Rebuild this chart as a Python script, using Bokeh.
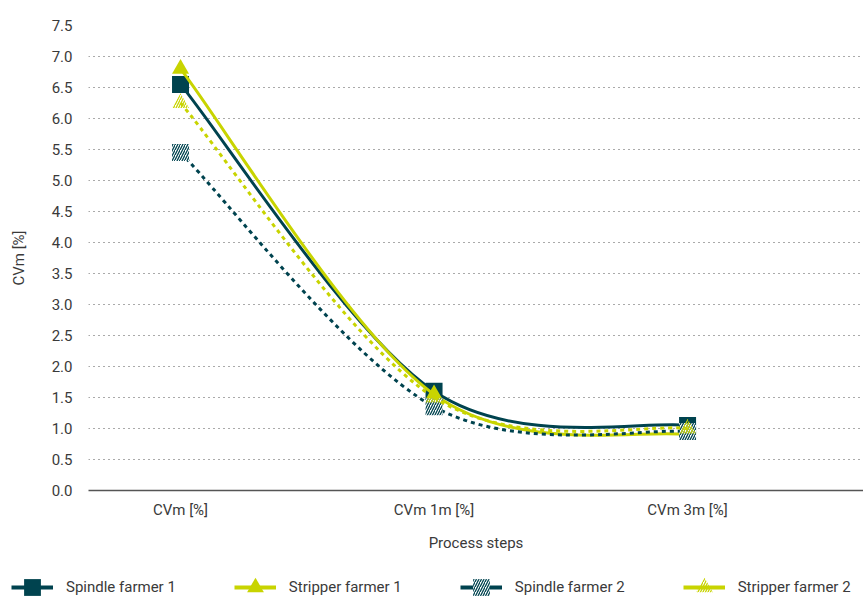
from bokeh.plotting import figure
from bokeh.layouts import column
from bokeh.models import Legend, LegendItem, FixedTicker, Range1d, PrintfTickFormatter
from bokeh.embed import file_html
from bokeh.resources import INLINE

# ---------------- data ----------------
categories = ["CVm [%]", "CVm 1m [%]", "CVm 3m [%]"]
spindle_farmer_1 = [6.55, 1.6, 1.05]
stripper_farmer_1 = [6.8, 1.55, 0.9]
spindle_farmer_2 = [5.45, 1.35, 0.95]
stripper_farmer_2 = [6.25, 1.5, 1.0]
series_names = ["Spindle farmer 1", "Stripper farmer 1", "Spindle farmer 2", "Stripper farmer 2"]
y_ticks = [0.0, 0.5, 1.0, 1.5, 2.0, 2.5, 3.0, 3.5, 4.0, 4.5, 5.0, 5.5, 6.0, 6.5, 7.0, 7.5]

DARK = "#00434f"
LIME = "#c8d400"
TEXT = "#3a3a3a"
FONT = "Roboto"
FS = "15px"

p = figure(width=863, height=556, output_backend="svg", toolbar_location=None,
           x_range=Range1d(-0.363, 2.694), y_range=Range1d(0, 7.5),
           min_border_left=88, min_border_right=0, min_border_top=25, min_border_bottom=66)
p.frame_align = False
p.outline_line_color = None
p.background_fill_color = "white"

# axes
p.xaxis.ticker = FixedTicker(ticks=list(range(len(categories))))
p.xaxis.major_label_overrides = {i: c for i, c in enumerate(categories)}
p.xaxis.axis_label = "Process steps"
p.xaxis.axis_line_color = "#555555"
p.xaxis.axis_line_width = 1.5
p.xaxis.major_tick_line_color = None
p.xaxis.minor_tick_line_color = None
p.xaxis.major_label_standoff = 4
p.xaxis.axis_label_standoff = 12

p.yaxis.ticker = FixedTicker(ticks=y_ticks)
p.yaxis.formatter = PrintfTickFormatter(format="%.1f")
p.yaxis.axis_label = "CVm [%]"
p.yaxis.axis_line_color = None
p.yaxis.major_tick_line_color = None
p.yaxis.minor_tick_line_color = None
p.yaxis.major_label_standoff = 10
p.yaxis.axis_label_standoff = 21

for ax in (p.xaxis[0], p.yaxis[0]):
    ax.major_label_text_font = FONT
    ax.major_label_text_font_size = FS
    ax.major_label_text_color = TEXT
    ax.axis_label_text_font = FONT
    ax.axis_label_text_font_size = FS
    ax.axis_label_text_font_style = "normal"
    ax.axis_label_text_color = TEXT

p.xgrid.grid_line_color = None
p.ygrid.grid_line_color = "#555555"
p.ygrid.grid_line_dash = "1 4"
p.ygrid.grid_line_width = 1


def spline_segments(xs, ys):
    """Catmull-Rom control points for each segment between data points."""
    n = len(xs)
    out = {k: [] for k in ("x0", "y0", "x1", "y1", "cx0", "cy0", "cx1", "cy1")}
    for i in range(n - 1):
        p0 = (xs[max(i - 1, 0)], ys[max(i - 1, 0)])
        p1 = (xs[i], ys[i])
        p2 = (xs[i + 1], ys[i + 1])
        p3 = (xs[min(i + 2, n - 1)], ys[min(i + 2, n - 1)])
        out["x0"].append(p1[0]); out["y0"].append(p1[1])
        out["x1"].append(p2[0]); out["y1"].append(p2[1])
        out["cx0"].append(p1[0] + (p2[0] - p0[0]) / 6.0)
        out["cy0"].append(p1[1] + (p2[1] - p0[1]) / 6.0)
        out["cx1"].append(p2[0] - (p3[0] - p1[0]) / 6.0)
        out["cy1"].append(p2[1] - (p3[1] - p1[1]) / 6.0)
    return out


# legend strip: a separate figure whose proxy glyphs lie outside its visible range
lf = figure(width=863, height=48, output_backend="svg", toolbar_location=None,
            x_axis_location=None, y_axis_location=None,
            x_range=Range1d(0, 1), y_range=Range1d(-2, -1),
            min_border_left=0, min_border_right=0, min_border_top=0, min_border_bottom=0)
lf.frame_align = False
lf.grid.visible = False
lf.outline_line_color = None

xs = list(range(len(categories)))
specs = [
    (spindle_farmer_1, DARK, "square", None, None, DARK),
    (stripper_farmer_1, LIME, "triangle", None, None, LIME),
    (spindle_farmer_2, DARK, "square", "4 4", "/", "white"),
    (stripper_farmer_2, LIME, "triangle", "4 4", "/", "white"),
]

items = []
for name, (vals, color, marker, dash, hatch, fill) in zip(series_names, specs):
    seg = spline_segments(xs, vals)
    line_kwargs = dict(line_color=color, line_width=3)
    if dash:
        line_kwargs["line_dash"] = dash
    p.bezier(**seg, **line_kwargs)
    sc_kwargs = dict(marker=marker, line_color=None, fill_color=fill)
    if hatch:
        sc_kwargs.update(hatch_pattern=hatch, hatch_color=color, hatch_scale=5, hatch_weight=1.3)
        sc_kwargs["fill_alpha"] = 1.0 if marker == "square" else 0.0
    p.scatter(xs, vals, size=17, **sc_kwargs)
    # legend proxies: same styling, same data, off the legend strip's visible range
    ll = lf.line(xs, vals, line_color=color, line_width=4)
    ls = lf.scatter(xs, vals, **sc_kwargs)
    items.append(LegendItem(label=name, renderers=[ll, ls]))

legend = Legend(items=items, orientation="horizontal", location=(11, -8),
                glyph_width=42, glyph_height=50, label_standoff=13, spacing=58,
                padding=0, margin=0, border_line_color=None, background_fill_alpha=0,
                label_text_font=FONT, label_text_font_size=FS, label_text_color=TEXT)
lf.add_layout(legend, "center")

layout = column(p, lf, spacing=0)
open("out.html", "w").write(file_html(layout, INLINE))
